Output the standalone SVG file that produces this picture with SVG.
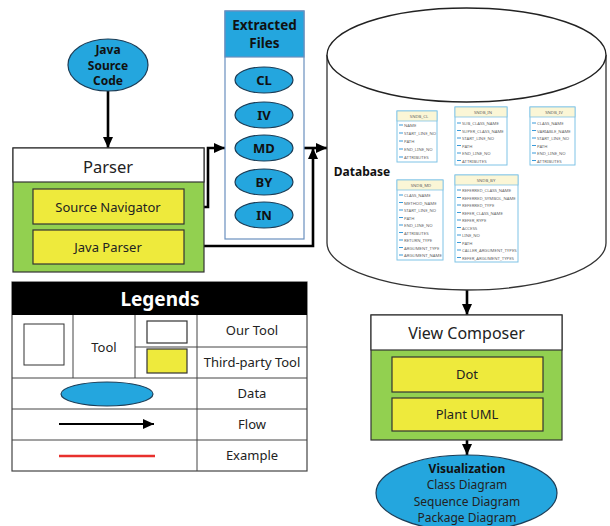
<svg xmlns="http://www.w3.org/2000/svg" width="610" height="526" viewBox="0 0 610 526">
<defs>
<marker id="ah" markerUnits="userSpaceOnUse" markerWidth="12" markerHeight="12" refX="11" refY="6" orient="auto">
<path d="M0,1 L11,6 L0,11 Z" fill="#000"/>
</marker>
<style>
text{font-family:"Noto Sans","Liberation Sans",sans-serif;fill:#222;text-anchor:middle;dominant-baseline:central}
.b{font-weight:bold;fill:#111}
.data{fill:#24a6de;stroke:#1b3d57;stroke-width:1.2}
.tool{fill:#fff;stroke:#333;stroke-width:1.2}
.third{fill:#eeea3c;stroke:#333;stroke-width:1.2}
.grn{fill:#92d050;stroke:#333;stroke-width:1.2}
.flow{fill:none;stroke:#000;stroke-width:2.6;marker-end:url(#ah)}
.tb{fill:#fff;stroke:#7fc3e6;stroke-width:1}
.th{fill:#fbf6d6;stroke:#7fc3e6;stroke-width:0.8}
.tt{font-size:4.3px;fill:#666;text-anchor:start}
.ttc{font-size:4.3px;fill:#666}
.dash{stroke:#3a9ad9;stroke-width:1.2}
.lg{fill:none;stroke:#444;stroke-width:1}
</style>
</defs>

<g id="connectors">
<path class="flow" d="M108,91 V148"/>
<path class="flow" d="M184,207 H208 V148 H225"/>
<path class="flow" d="M184,246 H313 V148"/>
<path class="flow" d="M304,148 H327"/>
<path class="flow" d="M467,290 V315"/>
<path class="flow" d="M467,440 V455"/>
</g>

<g id="java-source">
<ellipse class="data" cx="108" cy="65" rx="40" ry="26"/>
<text class="b" x="108" y="49.5" font-size="12">Java</text>
<text class="b" x="108" y="65" font-size="12">Source</text>
<text class="b" x="108" y="80.5" font-size="12">Code</text>
</g>

<g id="parser">
<rect class="grn" x="13" y="148" width="191" height="124"/>
<rect class="tool" x="13" y="148" width="191" height="34"/>
<text x="108" y="166" font-size="16.5">Parser</text>
<g id="source-navigator">
<rect class="third" x="33" y="189" width="151" height="35"/>
<text x="108" y="207" font-size="13">Source Navigator</text>
</g>
<g id="java-parser">
<rect class="third" x="33" y="230" width="151" height="34"/>
<text x="108" y="247" font-size="13">Java Parser</text>
</g>
</g>

<g id="extracted-files">
<rect x="225" y="11" width="79" height="228" fill="#fff" stroke="#6a8fbf" stroke-width="1.2"/>
<rect x="225" y="11" width="79" height="46" fill="#24a6de" stroke="#6a8fbf" stroke-width="1.2"/>
<text class="b" x="264.5" y="24.5" font-size="13.5">Extracted</text>
<text class="b" x="264.5" y="43" font-size="13.5">Files</text>
<g id="ef-cl"><ellipse class="data" cx="264" cy="80" rx="29" ry="13"/><text class="b" x="264" y="80" font-size="13">CL</text></g>
<g id="ef-iv"><ellipse class="data" cx="264" cy="115" rx="29" ry="13"/><text class="b" x="264" y="115" font-size="13">IV</text></g>
<g id="ef-md"><ellipse class="data" cx="264" cy="148" rx="29" ry="13"/><text class="b" x="264" y="148" font-size="13">MD</text></g>
<g id="ef-by"><ellipse class="data" cx="264" cy="182" rx="29" ry="13"/><text class="b" x="264" y="182" font-size="13">BY</text></g>
<g id="ef-in"><ellipse class="data" cx="264" cy="215" rx="29" ry="13"/><text class="b" x="264" y="215" font-size="13">IN</text></g>
</g>

<g id="database">
<path d="M327,55 L327,243 A139.5,47 0 0 0 606,243 L606,55" fill="#fff" stroke="#333" stroke-width="1.3"/>
<ellipse cx="466.5" cy="55" rx="139.5" ry="47" fill="#fff" stroke="#222" stroke-width="1.4"/>
<text class="b" x="362" y="171" font-size="12">Database</text>

<g id="tbl-cl">
<rect class="tb" x="397" y="111" width="40" height="51"/>
<rect class="th" x="397" y="111" width="40" height="10"/>
<text class="ttc" x="419" y="116">SNDB_CL</text>
<g class="dash"><path d="M399,125h4M399,133h4M399,141h4M399,149h4M399,157h4"/></g>
<text class="tt" x="404" y="125">NAME</text>
<text class="tt" x="404" y="133">START_LINE_NO</text>
<text class="tt" x="404" y="141">PATH</text>
<text class="tt" x="404" y="149">END_LINE_NO</text>
<text class="tt" x="404" y="157">ATTRIBUTES</text>
</g>

<g id="tbl-in">
<rect class="tb" x="455" y="107" width="52" height="58"/>
<rect class="th" x="455" y="107" width="52" height="10"/>
<text class="ttc" x="483" y="112">SNDB_IN</text>
<g class="dash"><path d="M457,123h4M457,130.5h4M457,138h4M457,145.5h4M457,153h4M457,160.5h4"/></g>
<text class="tt" x="462" y="123">SUB_CLASS_NAME</text>
<text class="tt" x="462" y="130.5">SUPER_CLASS_NAME</text>
<text class="tt" x="462" y="138">START_LINE_NO</text>
<text class="tt" x="462" y="145.5">PATH</text>
<text class="tt" x="462" y="153">END_LINE_NO</text>
<text class="tt" x="462" y="160.5">ATTRIBUTES</text>
</g>

<g id="tbl-iv">
<rect class="tb" x="530" y="107" width="45" height="58"/>
<rect class="th" x="530" y="107" width="45" height="10"/>
<text class="ttc" x="554" y="112">SNDB_IV</text>
<g class="dash"><path d="M532,123h4M532,130.5h4M532,138h4M532,145.5h4M532,153h4M532,160.5h4"/></g>
<text class="tt" x="537" y="123">CLASS_NAME</text>
<text class="tt" x="537" y="130.5">VARIABLE_NAME</text>
<text class="tt" x="537" y="138">START_LINE_NO</text>
<text class="tt" x="537" y="145.5">PATH</text>
<text class="tt" x="537" y="153">END_LINE_NO</text>
<text class="tt" x="537" y="160.5">ATTRIBUTES</text>
</g>

<g id="tbl-md">
<rect class="tb" x="397" y="180" width="46" height="80"/>
<rect class="th" x="397" y="180" width="46" height="10"/>
<text class="ttc" x="421" y="185">SNDB_MD</text>
<g class="dash"><path d="M399,195h4M399,202.5h4M399,210h4M399,217.5h4M399,225h4M399,232.5h4M399,240h4M399,247.5h4M399,255h4"/></g>
<text class="tt" x="404" y="195">CLASS_NAME</text>
<text class="tt" x="404" y="202.5">METHOD_NAME</text>
<text class="tt" x="404" y="210">START_LINE_NO</text>
<text class="tt" x="404" y="217.5">PATH</text>
<text class="tt" x="404" y="225">END_LINE_NO</text>
<text class="tt" x="404" y="232.5">ATTRIBUTES</text>
<text class="tt" x="404" y="240">RETURN_TYPE</text>
<text class="tt" x="404" y="247.5">ARGUMENT_TYPE</text>
<text class="tt" x="404" y="255">ARGUMENT_NAME</text>
</g>

<g id="tbl-by">
<rect class="tb" x="455" y="175" width="63" height="87"/>
<rect class="th" x="455" y="175" width="63" height="10"/>
<text class="ttc" x="486" y="180">SNDB_BY</text>
<g class="dash"><path d="M457,190h4M457,197.5h4M457,205h4M457,212.5h4M457,220h4M457,227.5h4M457,235h4M457,242.5h4M457,250h4M457,257.5h4"/></g>
<text class="tt" x="462" y="190">REFERRED_CLASS_NAME</text>
<text class="tt" x="462" y="197.5">REFERRED_SYMBOL_NAME</text>
<text class="tt" x="462" y="205">REFERRED_TYPE</text>
<text class="tt" x="462" y="212.5">REFER_CLASS_NAME</text>
<text class="tt" x="462" y="220">REFER_RYPE</text>
<text class="tt" x="462" y="227.5">ACCESS</text>
<text class="tt" x="462" y="235">LINE_NO</text>
<text class="tt" x="462" y="242.5">PATH</text>
<text class="tt" x="462" y="250">CALLER_ARGUMENT_TYPES</text>
<text class="tt" x="462" y="257.5">REFER_ARGUMENT_TYPES</text>
</g>
</g>

<g id="view-composer">
<rect class="grn" x="371" y="315" width="191" height="125"/>
<rect class="tool" x="371" y="315" width="191" height="35"/>
<text x="466.5" y="333" font-size="16">View Composer</text>
<g id="dot">
<rect class="third" x="392" y="357" width="151" height="35"/>
<text x="467" y="374" font-size="13">Dot</text>
</g>
<g id="plant-uml">
<rect class="third" x="392" y="398" width="151" height="33"/>
<text x="467" y="414" font-size="13">Plant UML</text>
</g>
</g>

<g id="visualization">
<ellipse class="data" cx="466.5" cy="493" rx="90.5" ry="38"/>
<text class="b" x="467" y="468" font-size="12">Visualization</text>
<text x="467" y="484.5" font-size="12">Class Diagram</text>
<text x="467" y="501" font-size="12">Sequence Diagram</text>
<text x="467" y="517.5" font-size="12">Package Diagram</text>
</g>

<g id="legend">
<rect x="12" y="282" width="295" height="189" fill="#fff" stroke="#444" stroke-width="1.2"/>
<rect x="12" y="282" width="295" height="33" fill="#000"/>
<text class="b" x="160" y="299" font-size="19" style="fill:#fff">Legends</text>
<path class="lg" d="M12,378 H307 M12,409 H307 M12,440 H307 M135,347 H307 M73,315 V378 M135,315 V378 M197,315 V471"/>
<rect x="24" y="324" width="40" height="41" fill="#fff" stroke="#333" stroke-width="1"/>
<text x="104" y="347" font-size="13">Tool</text>
<rect class="tool" x="147" y="321" width="40" height="22"/>
<rect class="third" x="147" y="349" width="40" height="24"/>
<text x="252" y="330" font-size="13">Our Tool</text>
<text x="252" y="362" font-size="13">Third-party Tool</text>
<ellipse class="data" cx="107" cy="394" rx="46" ry="12"/>
<text x="252" y="393" font-size="13">Data</text>
<path d="M59,424 H154" fill="none" stroke="#000" stroke-width="2" marker-end="url(#ah)"/>
<text x="252" y="424" font-size="13">Flow</text>
<path d="M59,456 H155" stroke="#e8302c" stroke-width="2.5"/>
<text x="252" y="455" font-size="13">Example</text>
</g>
</svg>
